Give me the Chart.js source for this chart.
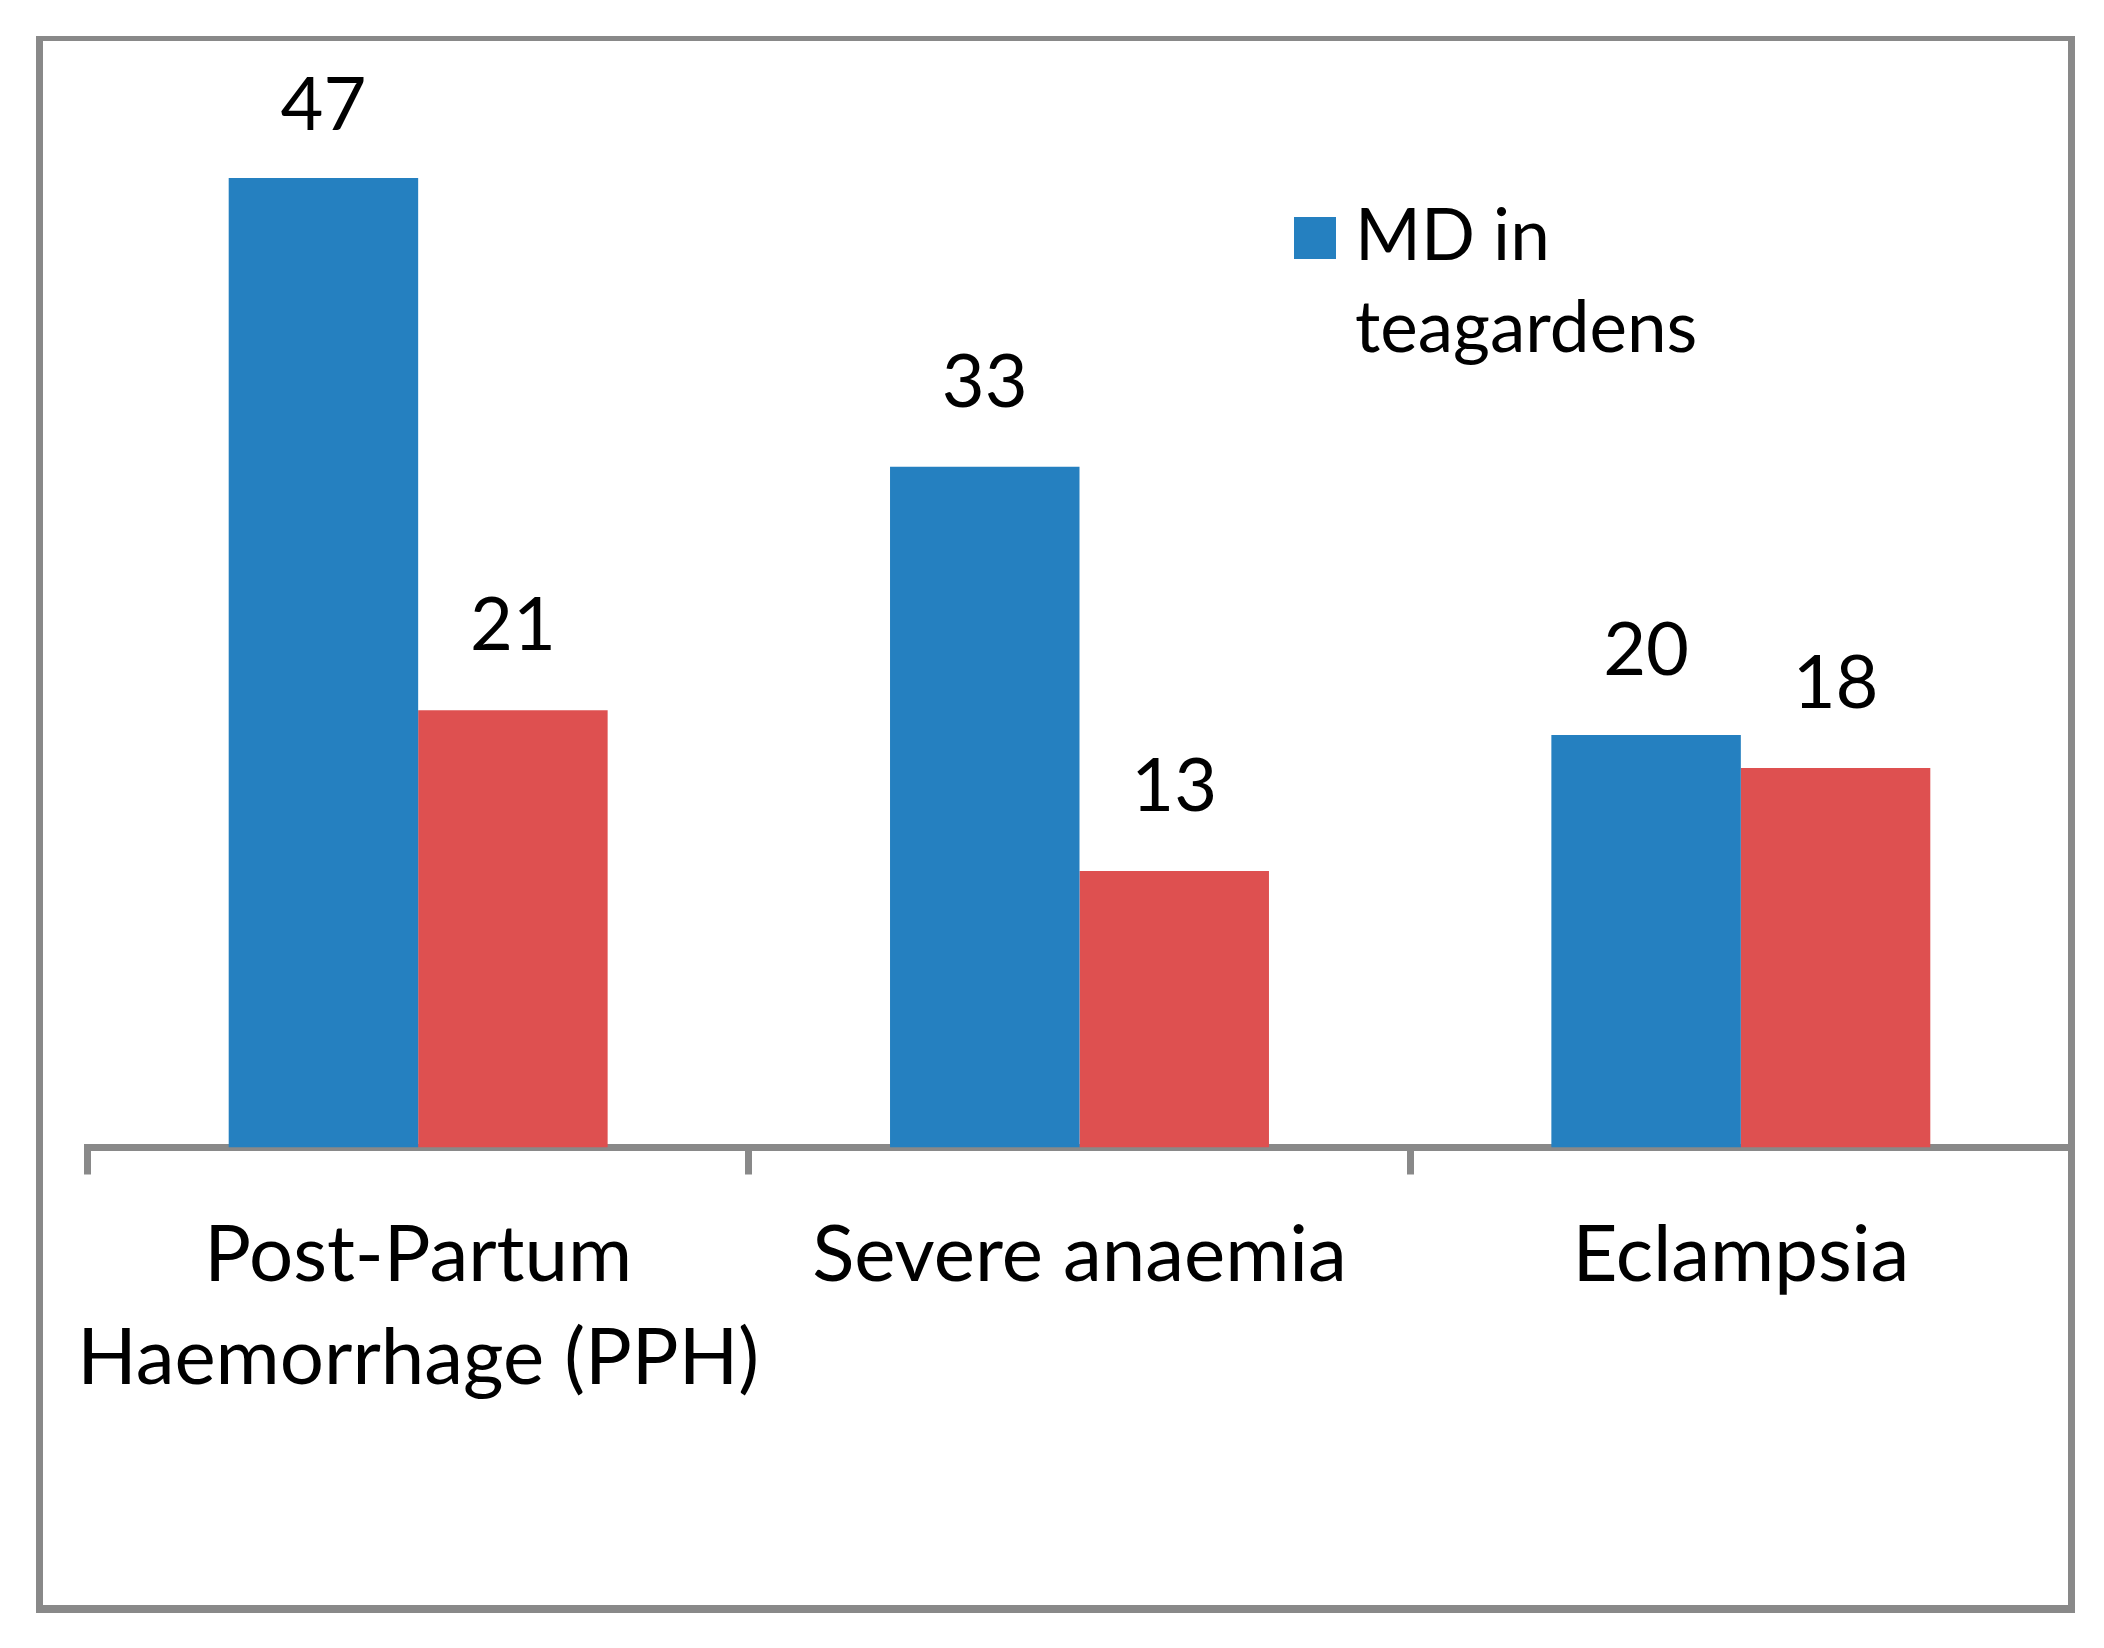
<!DOCTYPE html>
<html>
<head>
<meta charset="utf-8">
<script src="https://cdn.jsdelivr.net/npm/chart.js@4.4.1/dist/chart.umd.min.js"></script>
<style>
  html, body { margin: 0; padding: 0; background: #ffffff; }
  #c { display: block; }
</style>
</head>
<body>
<canvas id="c" width="2104" height="1648" style="width:2104px;height:1648px"></canvas>
<script>
const categories = [["Post-Partum", "Haemorrhage (PPH)"], "Severe anaemia", "Eclampsia"];
const seriesTeaName = "MD in teagardens";
const seriesTeaLegendLines = ["MD in", "teagardens"];
const seriesTea = [47, 33, 20];
const seriesOtherName = "MD elsewhere";
const seriesOther = [21.2, 13.4, 18.4];
const yMin = 0;
const yMax = 50;

const FONT = "Lato";
const GRAY = "#898989";
const BLUE = "#2580c0";
const RED = "#de5050";

const frame = {
  id: "frame",
  beforeDraw(chart) {
    const ctx = chart.ctx;
    ctx.save();
    ctx.fillStyle = "#ffffff";
    ctx.fillRect(0, 0, chart.width, chart.height);
    ctx.fillStyle = GRAY;
    ctx.fillRect(36, 36, 7, 1577);
    ctx.fillRect(2068, 36, 7, 1577);
    ctx.fillRect(36, 36, 2039, 5);
    ctx.fillRect(36, 1605, 2039, 8);
    ctx.restore();
  }
};

const valueLabels = {
  id: "valueLabels",
  afterDatasetsDraw(chart) {
    const ctx = chart.ctx;
    ctx.save();
    ctx.font = "74px " + FONT;
    ctx.fillStyle = "#000000";
    ctx.textAlign = "center";
    ctx.textBaseline = "alphabetic";
    chart.data.datasets.forEach((ds, di) => {
      const meta = chart.getDatasetMeta(di);
      meta.data.forEach((bar, i) => {
        const txt = String(Math.round(ds.data[i]));
        const y = Math.max(bar.y - 60, chart.chartArea.top + 14);
        ctx.fillText(txt, bar.x, y);
      });
    });
    ctx.restore();
  }
};

const customLegend = {
  id: "customLegend",
  afterDraw(chart) {
    const ctx = chart.ctx;
    const ds = chart.data.datasets[0];
    ctx.save();
    ctx.fillStyle = ds.backgroundColor;
    ctx.fillRect(1294, 217, 42, 42);
    ctx.fillStyle = "#000000";
    ctx.font = "71px " + FONT;
    ctx.textAlign = "left";
    ctx.textBaseline = "alphabetic";
    seriesTeaLegendLines.forEach((line, i) => {
      ctx.fillText(line, 1355, 260 + i * 92);
    });
    ctx.restore();
  }
};

new Chart(document.getElementById("c"), {
  type: "bar",
  data: {
    labels: categories,
    datasets: [
      { label: seriesTeaName, data: seriesTea, backgroundColor: BLUE, borderWidth: 0,
        categoryPercentage: 0.573, barPercentage: 1.0 },
      { label: seriesOtherName, data: seriesOther, backgroundColor: RED, borderWidth: 0,
        categoryPercentage: 0.573, barPercentage: 1.0 }
    ]
  },
  options: {
    responsive: false,
    animation: false,
    devicePixelRatio: 1,
    layout: { padding: { left: 87.5, right: 32.5, top: 116, bottom: 0 } },
    plugins: {
      legend: { display: false },
      tooltip: { enabled: false },
      title: { display: false }
    },
    scales: {
      x: {
        z: 1,
        offset: true,
        border: { display: true, color: GRAY, width: 7 },
        grid: { display: true, drawOnChartArea: false, drawTicks: true, tickLength: 27, lineWidth: 7, color: GRAY, offset: true },
        ticks: {
          color: "#000000",
          font: { family: FONT, size: 78, lineHeight: 1.32 },
          padding: 30,
          maxRotation: 0,
          minRotation: 0,
          autoSkip: false
        },
        afterFit(scale) { scale.height = 500.5; }
      },
      y: {
        display: false,
        min: yMin,
        max: yMax
      }
    }
  },
  plugins: [frame, valueLabels, customLegend]
});
</script>
</body>
</html>
